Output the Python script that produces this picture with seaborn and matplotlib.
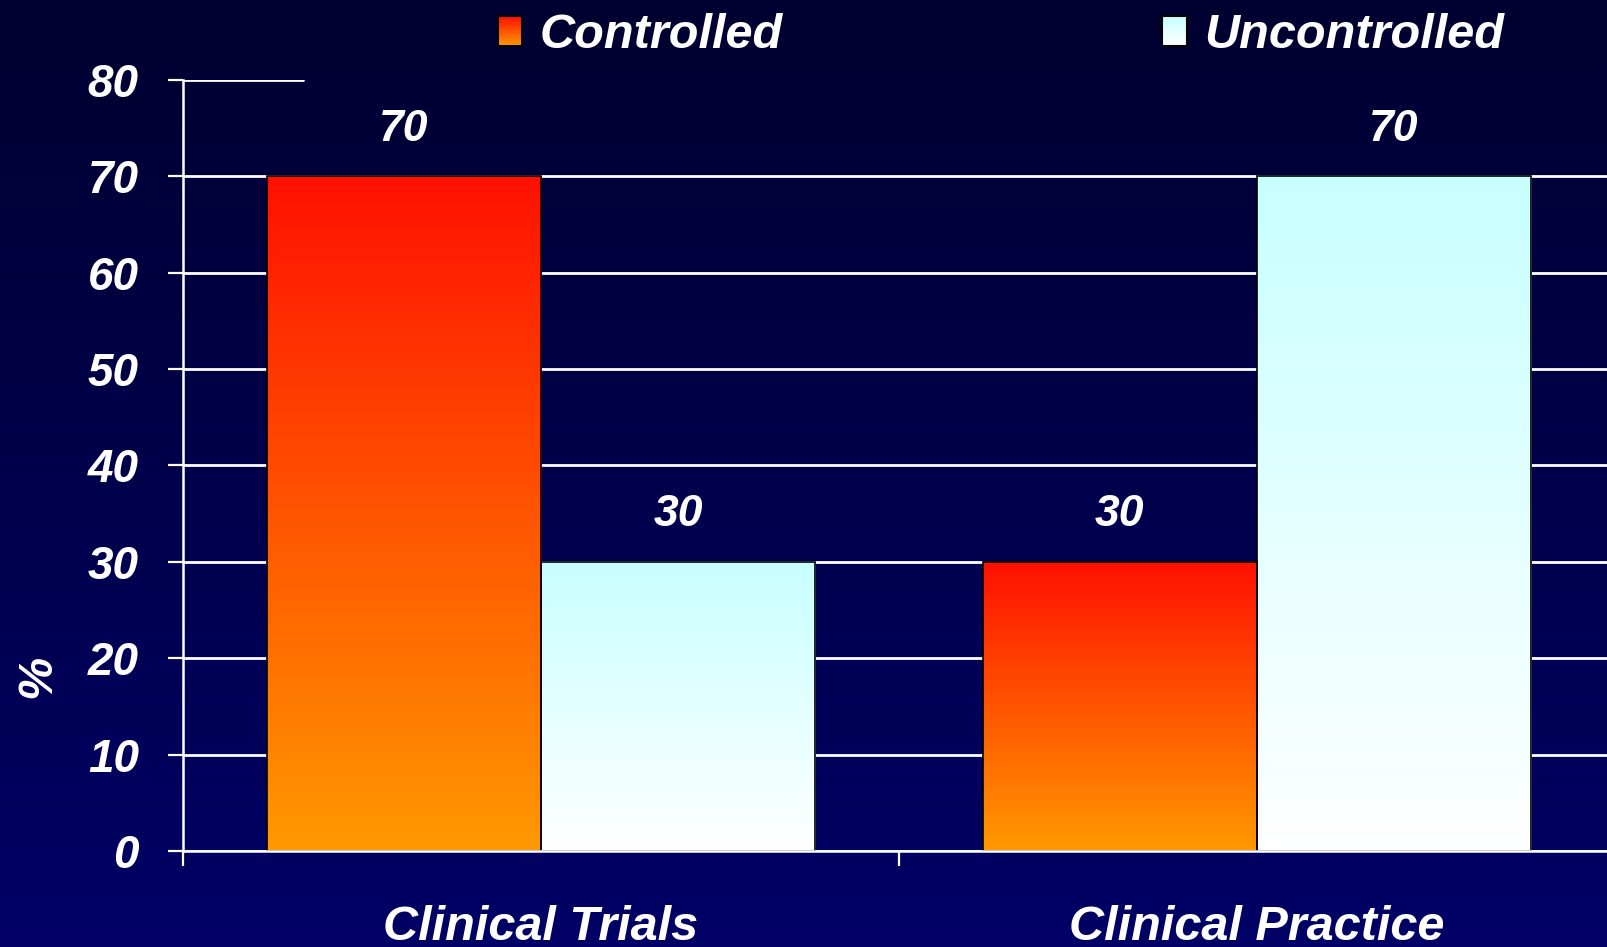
import numpy as np
import pandas as pd
import seaborn as sns
import matplotlib.pyplot as plt
from matplotlib.colors import LinearSegmentedColormap, to_rgb
from matplotlib.legend_handler import HandlerBase
from matplotlib.patches import Rectangle

settings = ["Clinical Trials", "Clinical Practice"]
statuses = ["Controlled", "Uncontrolled"]
controlled = [70, 30]
uncontrolled = [30, 70]
yticks = [0, 10, 20, 30, 40, 50, 60, 70, 80]

df = pd.DataFrame({
    "setting": settings + settings,
    "status": [statuses[0]] * 2 + [statuses[1]] * 2,
    "pct": controlled + uncontrolled,
})

# gradient ends (top, bottom) per status
grad_colors = [("#ff1000", "#ff9900"), ("#c8ffff", "#ffffff")]

sns.set_theme(style="white")
plt.rcParams["font.family"] = ["Liberation Sans", "DejaVu Sans"]
font = dict(weight="bold", style="italic", color="white")


class GradientHandler(HandlerBase):
    def __init__(self, top, bottom):
        super().__init__()
        self.top = np.array(to_rgb(top))
        self.bottom = np.array(to_rgb(bottom))

    def create_artists(self, legend, orig_handle, xdescent, ydescent,
                       width, height, fontsize, trans):
        arts = []
        n = 24
        for i in range(n):
            t = i / (n - 1)
            c = self.bottom * (1 - t) + self.top * t
            arts.append(Rectangle((-xdescent, -ydescent + i * height / n), width,
                                  height / n + 0.3, facecolor=c, edgecolor="none",
                                  transform=trans))
        arts.append(Rectangle((-xdescent, -ydescent), width, height, facecolor="none",
                              edgecolor="black", lw=1.5, transform=trans))
        return arts


fig = plt.figure(figsize=(16.08, 9.47), dpi=100)

# background gradient
bg = fig.add_axes([0, 0, 1, 1], zorder=-1)
bg.imshow(np.linspace(0, 1, 256).reshape(-1, 1), aspect="auto", extent=[0, 1, 0, 1],
          cmap=LinearSegmentedColormap.from_list("bg", ["#000030", "#000066"]))
bg.axis("off")

ax = fig.add_axes([0.1138, 0.1014, 0.8905, 0.8141])
ax.set_facecolor("none")

sns.barplot(data=df, x="setting", y="pct", hue="status", order=settings,
            hue_order=statuses, width=0.766, palette=[c[1] for c in grad_colors],
            edgecolor="black", linewidth=1.2, legend=False, ax=ax, zorder=2)

grad = np.linspace(0, 1, 256).reshape(-1, 1)
for cont, (top, bottom) in zip(ax.containers, grad_colors):
    cmap = LinearSegmentedColormap.from_list("g", [top, bottom])
    for bar in cont:
        x0, y0 = bar.get_x(), bar.get_y()
        w, h = bar.get_width(), bar.get_height()
        ax.imshow(grad, cmap=cmap, aspect="auto", extent=[x0, x0 + w, y0, y0 + h], zorder=2.1)
        bar.set_facecolor("none")
        bar.set_zorder(2.2)
    ax.bar_label(cont, padding=19, fontsize=32, **font)

ax.set_xlim(-0.5, 1.5)
ax.set_ylim(0, 80)

ax.set_yticks(yticks)
ax.set_yticklabels([str(v) for v in yticks], fontsize=33, **font)
ax.tick_params(axis="y", length=10.8, width=1.6, color="white", direction="out", pad=21, left=True)
ax.set_xticks([0, 1])
ax.set_xticklabels(settings, fontsize=35, **font)
ax.set_xticks([-0.5, 0.5], minor=True)
ax.tick_params(axis="x", which="major", length=0, pad=39)
ax.tick_params(axis="x", which="minor", length=10.8, width=1.6, color="white",
               direction="out", bottom=True)

ax.grid(axis="y", color="white", lw=2.0)
ax.set_axisbelow(True)
ax.yaxis.get_gridlines()[-1].set_visible(False)
ax.axhline(80, xmax=0.084, color="white", lw=2.0, zorder=0.5)

for s in ["top", "right"]:
    ax.spines[s].set_visible(False)
for s in ["left", "bottom"]:
    ax.spines[s].set_color("white")
    ax.spines[s].set_linewidth(1.8)

ax.set_xlabel("")
ax.set_ylabel("%", fontsize=35, **font)
ax.yaxis.set_label_coords(-0.086, 0.226)

handles = [Rectangle((0, 0), 1, 1), Rectangle((0, 0), 1, 1)]
fig.legend(handles=handles, labels=statuses,
           handler_map={handles[i]: GradientHandler(*grad_colors[i]) for i in range(2)},
           ncol=2, loc="center", bbox_to_anchor=(0.6226, 0.962), frameon=False,
           prop=dict(weight="bold", style="italic", size=35), labelcolor="white",
           handlelength=0.5, handleheight=0.58, handletextpad=0.37, columnspacing=7.8)

fig.savefig("out.png", dpi=100)
